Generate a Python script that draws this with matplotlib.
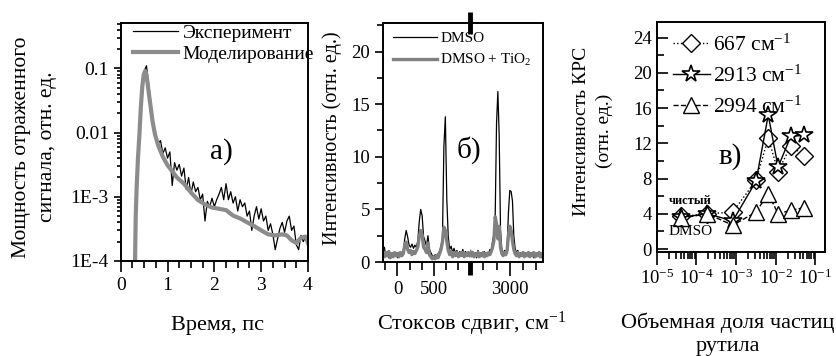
import numpy as np
import matplotlib
matplotlib.use('Agg')
import matplotlib.pyplot as plt
from matplotlib.ticker import LogLocator, MultipleLocator, NullFormatter, FixedLocator

plt.rcParams['font.family'] = ['Liberation Serif', 'DejaVu Serif']
plt.rcParams['mathtext.fontset'] = 'custom'
plt.rcParams['mathtext.rm'] = 'Liberation Serif'
plt.rcParams['mathtext.it'] = 'Liberation Serif:italic'
plt.rcParams['mathtext.bf'] = 'Liberation Serif:bold'
plt.rcParams['axes.linewidth'] = 1.4

# --- (a) reflected signal vs time ---
exp_time = np.round(np.arange(0.45, 4.001, 0.05), 2)
exp_signal = [0.03, 0.09, 0.11, 0.055, 0.027, 0.014, 0.0095, 0.0068, 0.0075, 0.0047,
              0.0058, 0.0040, 0.0050, 0.0015, 0.0034, 0.0026, 0.0032, 0.0021, 0.0028, 0.0013,
              0.0020, 0.0011, 0.0017, 0.0012, 0.0014, 0.0009, 0.0011, 0.00042, 0.00085, 0.0007,
              0.00095, 0.0007, 0.0009, 0.0011, 0.0014, 0.0009, 0.0016, 0.0009, 0.0012, 0.0008,
              0.001, 0.0006, 0.0009, 0.0007, 0.0008, 0.0005, 0.0006, 0.0003, 0.0005, 0.0007,
              0.00045, 0.00065, 0.00042, 0.0005, 0.0003, 0.00038, 0.00026, 0.00015, 0.00022, 0.00032,
              0.0004, 0.00028, 0.00042, 0.0005, 0.0003, 0.00035, 0.00018, 0.00015, 0.00025, 0.0002,
              0.00024, 0.0002]

model_time = [0.30, 0.32, 0.34, 0.37, 0.40, 0.43, 0.46, 0.49, 0.52, 0.54, 0.57, 0.60,
              0.64, 0.68, 0.73, 0.80, 0.90, 1.00, 1.10, 1.20, 1.35, 1.50, 1.65, 1.80,
              1.95, 2.10, 2.25, 2.40, 2.55, 2.70, 2.85, 3.00, 3.15, 3.30, 3.45, 3.55,
              3.65, 3.75, 3.85, 3.95, 4.00]
model_signal = [5e-5, 4.8e-4, 1.4e-3, 4.2e-3, 9.5e-3, 0.025, 0.051, 0.079, 0.091, 0.085, 0.062, 0.041,
                0.025, 0.015, 0.0095, 0.0063, 0.0042, 0.0031, 0.0025, 0.0020, 0.0016, 0.00117, 0.00089, 0.00076,
                0.00068, 0.00065, 0.00062, 0.00051, 0.00046, 0.0004, 0.00035, 0.0003, 0.00026, 0.00025, 0.00026, 0.00025,
                0.00021, 0.00019, 0.00023, 0.00024, 0.00019]

# --- (b) Raman spectra, broken x axis ---
shift_low = np.arange(-200, 1001, 20)
dmso_low = [0.6, 1.4, 0.5, 0.9, 0.4, 0.8, 0.5, 0.9, 0.6, 0.8,
            0.4, 0.9, 0.6, 0.8, 1.0, 2.2, 3.0, 2.4, 1.6, 1.4,
            1.7, 1.3, 1.6, 1.4, 2.0, 3.8, 5.0, 4.4, 2.4, 2.0,
            1.5, 2.5, 1.2, 0.9, 0.6, 0.4, 0.7, 0.5, 0.8, 1.0,
            1.5, 2.2, 11.0, 13.8, 6.0, 2.4, 1.2, 1.5, 0.9, 1.3,
            0.8, 1.1, 0.6, 1.0, 0.7, 1.2, 0.8, 1.0, 0.6, 0.9,
            0.7]
tio2_low = [1.0, 0.5, 0.9, 0.6, 1.0, 0.4, 0.8, 0.5, 0.9, 0.6,
            0.8, 0.5, 0.9, 0.6, 0.8, 1.6, 1.9, 1.2, 0.9, 1.1,
            0.7, 1.0, 0.8, 1.1, 1.4, 2.4, 3.0, 2.6, 1.4, 1.2,
            0.9, 1.8, 0.7, 0.5, 0.3, 0.5, 0.3, 0.6, 0.4, 0.8,
            1.2, 1.9, 3.3, 3.0, 2.0, 1.1, 0.7, 1.0, 0.5, 0.9,
            0.6, 0.9, 0.5, 0.8, 0.6, 0.9, 0.5, 0.8, 0.6, 0.9,
            0.6]

shift_high = np.arange(2700, 3251, 10)
dmso_high = [0.8, 0.5, 1.0, 0.6, 0.9, 0.4, 1.1, 0.7, 0.9, 0.5,
             0.8, 1.0, 0.6, 0.9, 0.7, 1.2, 1.0, 2.0, 2.6, 4.5,
             13.2, 16.2, 12.0, 3.0, 1.2, 0.8, 1.1, 0.9, 1.4, 4.8,
             6.8, 6.7, 5.8, 2.5, 1.3, 0.9, 1.1, 0.6, 0.9, 0.7,
             1.0, 0.5, 0.8, 0.6, 0.9, 0.5, 0.7, 0.8, 0.4, 0.7,
             0.5, 0.8, 0.6, 0.7, 0.4, 0.6]
tio2_high = [1.0, 0.6, 0.9, 0.5, 0.8, 0.6, 0.9, 0.5, 0.8, 0.6,
             0.9, 0.5, 0.8, 0.6, 0.9, 0.7, 1.0, 1.4, 2.0, 4.3,
             3.6, 2.2, 3.4, 1.4, 0.8, 0.6, 0.9, 0.7, 1.1, 2.6,
             3.4, 3.0, 2.0, 1.2, 0.8, 0.6, 0.9, 0.5, 0.8, 0.6,
             0.9, 0.5, 0.8, 0.6, 0.9, 0.5, 0.8, 0.6, 0.9, 0.5,
             0.8, 0.6, 0.9, 0.5, 0.8, 0.6]

# --- (c) Raman line intensity vs rutile volume fraction ---
rutile_fraction = [4.1e-5, 1.9e-4, 8.3e-4, 3.2e-3, 6.5e-3, 1.15e-2, 2.4e-2, 5.3e-2]
line_667 = [3.7, 4.0, 4.2, 7.8, 12.6, 8.8, 11.7, 10.6]
line_2913 = [3.6, 4.0, 3.2, 7.7, 15.2, 9.3, 12.8, 12.9]
line_2994 = [3.5, 4.0, 2.7, 4.2, 6.3, 4.0, 4.4, 4.7]

GRAY = '#8c8c8c'

fig = plt.figure(figsize=(8.36, 3.56), dpi=100)

# panel (a)
ax_a = fig.add_axes([0.1444, 0.2669, 0.2240, 0.6685])
ax_a.plot(exp_time, exp_signal, color='black', lw=0.9, label='Эксперимент')
ax_a.plot(model_time, model_signal, color=GRAY, lw=3.0, label='Моделирование')
ax_a.set_yscale('log')
ax_a.set_xlim(0, 4)
ax_a.set_ylim(1e-4, 0.51)
ax_a.set_yticks([1e-4, 1e-3, 1e-2, 1e-1])
ax_a.set_yticklabels(['1E-4', '1E-3', '0.01', '0.1'])
ax_a.yaxis.set_minor_locator(LogLocator(base=10, subs=np.arange(2, 10)))
ax_a.yaxis.set_minor_formatter(NullFormatter())
ax_a.xaxis.set_major_locator(MultipleLocator(1))
ax_a.xaxis.set_minor_locator(MultipleLocator(0.25))
ax_a.tick_params(which='both', direction='out', width=1.2, labelsize=14, top=False, right=False)
ax_a.tick_params(axis='x', which='major', length=8)
ax_a.tick_params(axis='x', which='minor', length=5)
ax_a.tick_params(axis='y', which='major', length=5)
ax_a.tick_params(axis='y', which='minor', length=3)
ax_a.legend(loc='upper left', bbox_to_anchor=(0.066, 0.995), frameon=False, fontsize=14,
            handlelength=2.3, handletextpad=0.25, labelspacing=0.2, borderpad=0, borderaxespad=0)
ax_a.text(0.54, 0.46, 'а)', transform=ax_a.transAxes, fontsize=21, ha='center', va='center')

fig.text(0.0407, 0.587, 'Мощность отраженного\nсигнала, отн. ед.', rotation=90,
         ha='center', va='center', fontsize=15.5, linespacing=1.5, multialignment='center')
fig.text(0.2596, 0.073, 'Время, пс', ha='center', va='baseline', fontsize=16)

# panel (b): two segments share the y scale
ax_b1 = fig.add_axes([0.4581, 0.264, 0.1041, 0.671])
ax_b2 = fig.add_axes([0.5622, 0.264, 0.0873, 0.671])
ax_b2.patch.set_visible(False)
for ax, x, y_dmso, y_tio2 in ((ax_b1, shift_low, dmso_low, tio2_low),
                              (ax_b2, shift_high, dmso_high, tio2_high)):
    ax.plot(x, y_dmso, color='black', lw=0.9, label='DMSO')
    ax.plot(x, y_tio2, color='#808080', lw=2.4, label='DMSO + TiO$_2$')
    ax.set_ylim(0, 22.7)
    ax.tick_params(which='both', direction='out', width=1.2, labelsize=13.5, top=False, right=False)
    ax.tick_params(axis='x', which='major', length=10)
    ax.tick_params(axis='x', which='minor', length=6)
ax_b1.set_xlim(-200, 1000)
ax_b2.set_xlim(2700, 3250)
ax_b1.set_xticks([0, 500])
ax_b1.xaxis.set_minor_locator(FixedLocator([-500 / 3, 500 / 3, 1000 / 3, 2000 / 3, 2500 / 3]))
ax_b2.set_xticks([3000])
ax_b2.xaxis.set_minor_locator(FixedLocator([2800, 2900, 3100, 3200]))
ax_b1.yaxis.set_major_locator(MultipleLocator(5))
ax_b1.yaxis.set_minor_locator(MultipleLocator(2.5))
ax_b1.tick_params(axis='y', which='major', length=6)
ax_b1.tick_params(axis='y', which='minor', length=4)
ax_b1.spines['right'].set_visible(False)
ax_b2.spines['left'].set_visible(False)
ax_b2.tick_params(axis='y', which='both', left=False, labelleft=False)

# break marks on the x axis
for y0, y1 in ((0.955, 1.045), (-0.055, 0.005)):
    ax_b1.plot([1.0, 1.0], [y0, y1], transform=ax_b1.transAxes, color='black',
               lw=3.5, solid_capstyle='butt', clip_on=False, zorder=5)

ax_b1.legend(loc='upper left', bbox_to_anchor=(0.115, 0.965), frameon=False, fontsize=11,
             handlelength=2.9, handletextpad=0.2, labelspacing=0.45, borderpad=0, borderaxespad=0)
fig.text(0.561, 0.579, 'б)', fontsize=21, ha='center', va='center')
fig.text(0.397, 0.611, 'Интенсивность (отн. ед.)', rotation=90,
         ha='center', va='center', fontsize=14.5)
fig.text(0.564, 0.073, 'Стоксов сдвиг, см$^{-1}$', ha='center', va='baseline', fontsize=16)

# panel (c)
ax_c = fig.add_axes([0.7855, 0.293, 0.2019, 0.646])
ax_c.plot(rutile_fraction, line_667, ls=':', color='black', lw=1.0, marker='D', ms=9,
          mfc='white', mec='black', mew=1.0, label='667 см$^{-1}$')
ax_c.plot(rutile_fraction, line_2913, ls='-', color='black', lw=1.0, marker='*', ms=13,
          mfc='white', mec='black', mew=1.2, label='2913 см$^{-1}$')
ax_c.plot(rutile_fraction, line_2994, ls='--', color='black', lw=1.0, marker='^', ms=11,
          mfc='white', mec='black', mew=1.0, label='2994 см$^{-1}$')
ax_c.set_xscale('log')
ax_c.set_xlim(1e-5, 0.18)
ax_c.set_ylim(-0.3, 25.8)
ax_c.xaxis.set_major_locator(LogLocator(base=10, numticks=10))
ax_c.xaxis.set_minor_locator(LogLocator(base=10, subs=np.arange(2, 10), numticks=20))
ax_c.xaxis.set_minor_formatter(NullFormatter())
ax_c.yaxis.set_major_locator(MultipleLocator(4))
ax_c.yaxis.set_minor_locator(MultipleLocator(2))
ax_c.tick_params(which='both', width=1.2, top=False, right=False)
ax_c.tick_params(axis='y', which='major', direction='in', length=8, labelsize=13.5)
ax_c.tick_params(axis='y', which='minor', direction='in', length=5)
ax_c.tick_params(axis='x', which='major', direction='out', length=9, labelsize=13.5)
ax_c.tick_params(axis='x', which='minor', direction='out', length=5)
ax_c.legend(loc='upper left', bbox_to_anchor=(0.097, 0.945), frameon=False, fontsize=15.5,
            handlelength=1.7, handletextpad=0.15, labelspacing=0.45, borderpad=0,
            borderaxespad=0, numpoints=1)
ax_c.text(2e-5, 5.5, 'чистый', fontsize=9, fontweight='bold', ha='left', va='center')
ax_c.text(2e-5, 2.0, 'DMSO', fontsize=11, ha='left', va='center')
fig.text(0.873, 0.559, 'в)', fontsize=21, ha='center', va='center')
fig.text(0.7093, 0.632, 'Интенсивность КРС\n(отн. ед.)', rotation=90,
         ha='center', va='center', fontsize=14, linespacing=1.5, multialignment='center')
fig.text(0.871, 0.0787, 'Объемная доля частиц', ha='center', va='baseline', fontsize=16)
fig.text(0.871, 0.014, 'рутила', ha='center', va='baseline', fontsize=16)

fig.savefig('out.png', dpi=100)
